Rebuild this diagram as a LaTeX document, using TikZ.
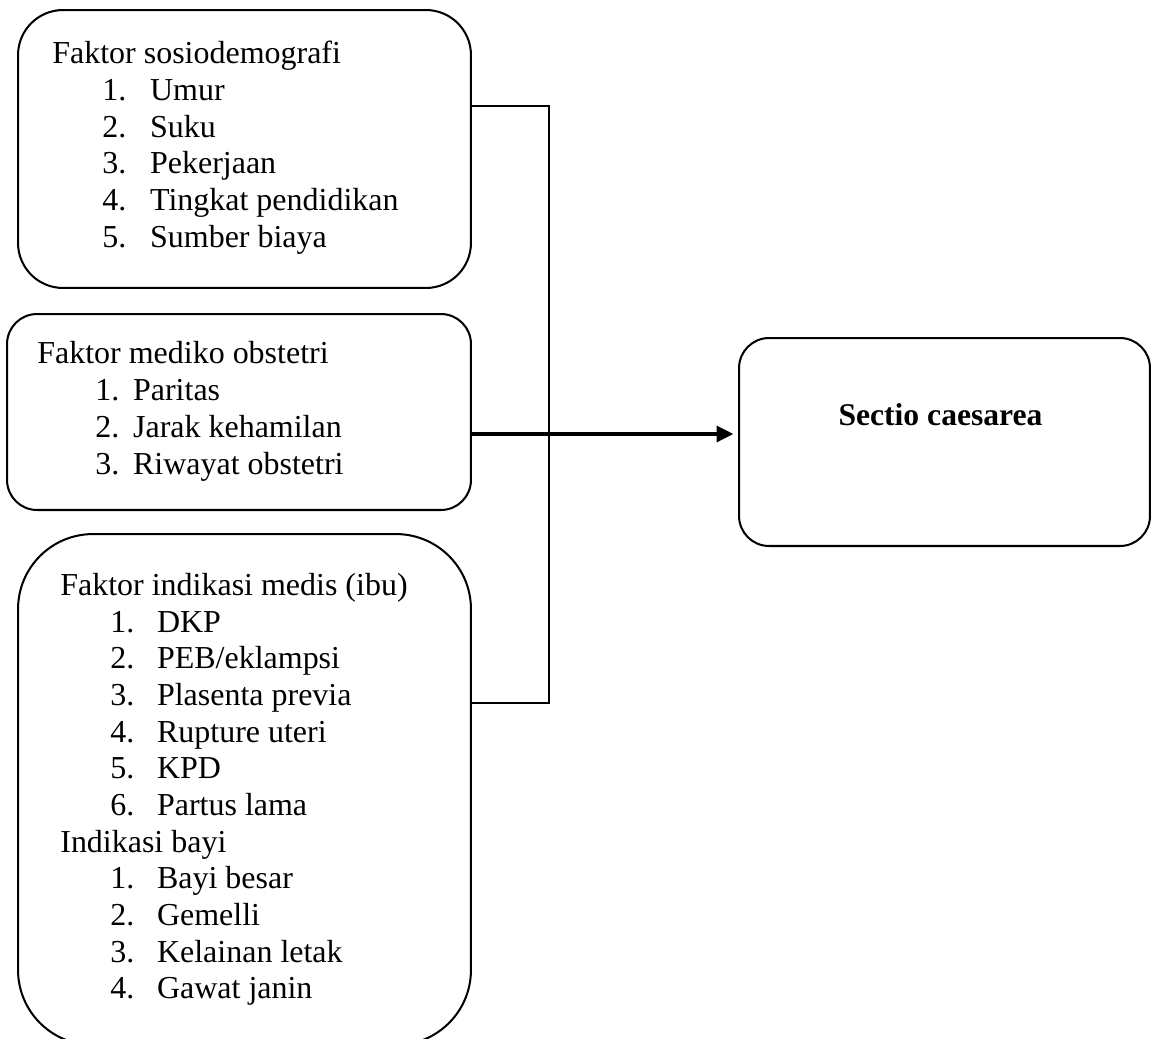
\documentclass[tikz,border=0pt]{standalone}
\usepackage{fontspec}
\setmainfont{Liberation Serif}
\usetikzlibrary{arrows.meta, positioning}

% number and item text of one list line
\newcommand{\numitem}[3]{\makebox[#1][l]{#2}#3}

\begin{document}
\begin{tikzpicture}[x=0.02cm, y=-0.02cm,
        faktorbox/.style={draw, line width=1.15pt, inner sep=0pt, outer sep=0pt},
        entry/.style={anchor=base west, inner sep=0pt, font=\fontsize{18.2}{21}\selectfont},
        link/.style={line width=1.1pt},
        mainarrow/.style={line width=1.9pt, -{Triangle[length=9.5pt, width=9pt]}, shorten >=3.2pt}]
    \useasboundingbox (0,0) rectangle (1152,1038);
    \clip (0,0) rectangle (1152,1038);

    % boxes
    \node[faktorbox, rounded corners=0.9cm, minimum width=9.06cm, minimum height=5.56cm] (sosio) at (244.5,149) {};
    \node[faktorbox, rounded corners=0.6cm, minimum width=9.28cm, minimum height=3.92cm] (mediko) at (239,412) {};
    \node[faktorbox, rounded corners=1.5cm, minimum width=9.06cm, minimum height=10.22cm] (indikasi) at (244.5,789.5) {};
    \node[faktorbox, rounded corners=0.6cm, minimum width=8.22cm, minimum height=4.16cm] (sectio) at (944.5,442) {};

    % faktor sosiodemografi
    \def\w{27.2pt}
    \node[entry] (sosioHead) at (52,63) {Faktor sosiodemografi};
    \node[entry] (sosioA) at (102,100) {\numitem{\w}{1.}{Umur}};
    \node[entry] (sosioB) at (102,137) {\numitem{\w}{2.}{Suku}};
    \node[entry] (sosioC) at (102,173) {\numitem{\w}{3.}{Pekerjaan}};
    \node[entry] (sosioD) at (102,210) {\numitem{\w}{4.}{Tingkat pendidikan}};
    \node[entry] (sosioE) at (102,247) {\numitem{\w}{5.}{Sumber biaya}};

    % faktor mediko obstetri
    \def\w{21.5pt}
    \node[entry] (medikoHead) at (37,363) {Faktor mediko obstetri};
    \node[entry] (medikoA) at (95,400) {\numitem{\w}{1.}{Paritas}};
    \node[entry] (medikoB) at (95,437) {\numitem{\w}{2.}{Jarak kehamilan}};
    \node[entry] (medikoC) at (95,474) {\numitem{\w}{3.}{Riwayat obstetri}};

    % faktor indikasi medis
    \def\w{26.6pt}
    \node[entry] (ibuHead) at (60,595) {Faktor indikasi medis (ibu)};
    \node[entry] (ibuA) at (110,632) {\numitem{\w}{1.}{DKP}};
    \node[entry] (ibuB) at (110,668) {\numitem{\w}{2.}{PEB/eklampsi}};
    \node[entry] (ibuC) at (110,705) {\numitem{\w}{3.}{Plasenta previa}};
    \node[entry] (ibuD) at (110,742) {\numitem{\w}{4.}{Rupture uteri}};
    \node[entry] (ibuE) at (110,778) {\numitem{\w}{5.}{KPD}};
    \node[entry] (ibuF) at (110,815) {\numitem{\w}{6.}{Partus lama}};
    \node[entry] (bayiHead) at (60,852) {Indikasi bayi};
    \node[entry] (bayiA) at (110,888) {\numitem{\w}{1.}{Bayi besar}};
    \node[entry] (bayiB) at (110,925) {\numitem{\w}{2.}{Gemelli}};
    \node[entry] (bayiC) at (110,962) {\numitem{\w}{3.}{Kelainan letak}};
    \node[entry] (bayiD) at (110,998) {\numitem{\w}{4.}{Gawat janin}};

    \node[anchor=base, inner sep=0pt, font=\fontsize{18}{22}\selectfont\bfseries] (sectioLabel) at (940.5,425) {Sectio caesarea};

    % connectors
    \coordinate (busTop) at (549,106);
    \coordinate (busBot) at (549,703);
    \coordinate (armLvl) at (600,434);
    \draw[link] (sosio.east |- busTop) -- (busTop) -- (busBot) -- (indikasi.east |- busBot);
    \draw[mainarrow] (mediko.east |- armLvl) -- (sectio.west |- armLvl);
\end{tikzpicture}
\end{document}
